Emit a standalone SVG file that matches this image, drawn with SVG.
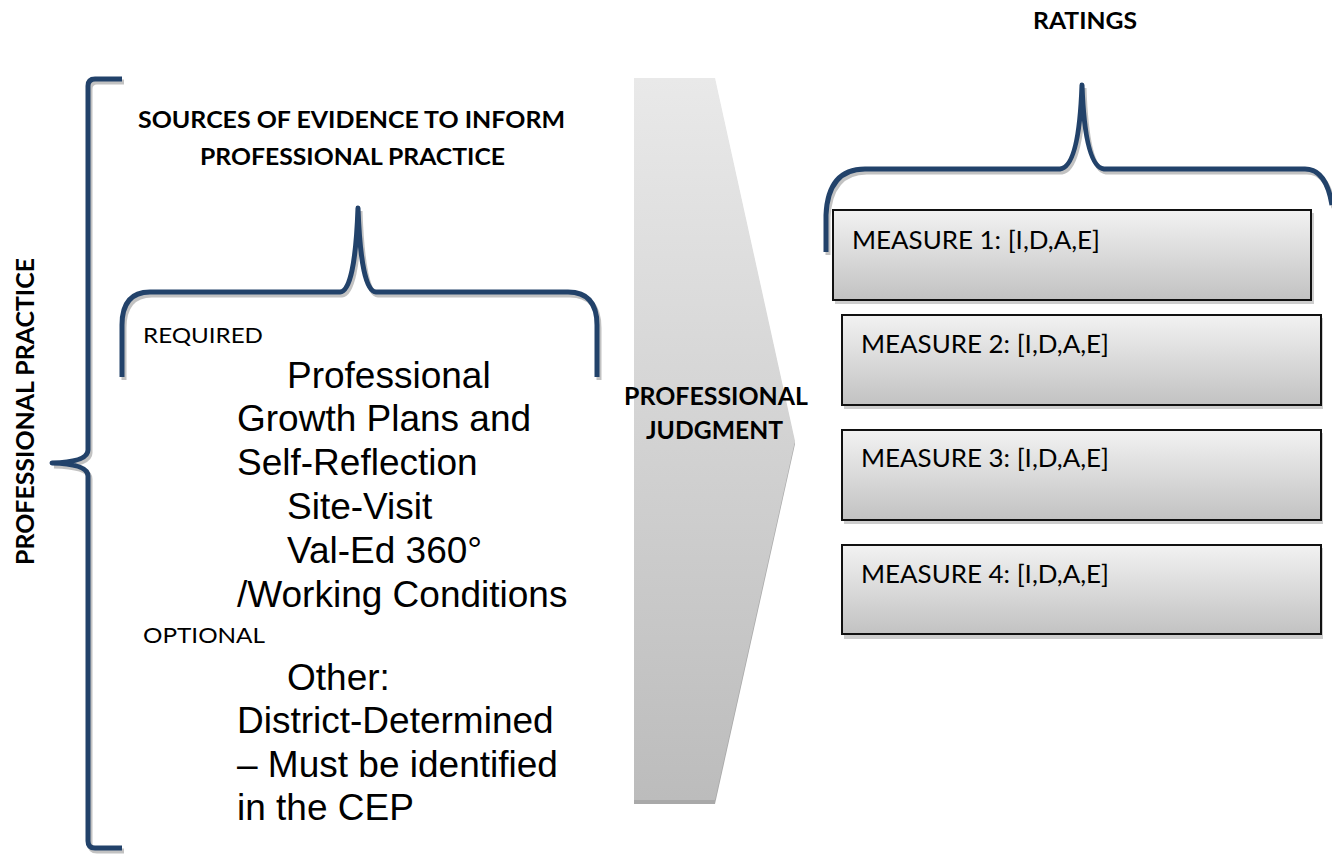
<svg xmlns="http://www.w3.org/2000/svg" width="1332" height="855" viewBox="0 0 1332 855">
<defs>
<linearGradient id="boxGrad" x1="0" y1="0" x2="0" y2="1">
<stop offset="0" stop-color="#f2f2f2"/>
<stop offset="1" stop-color="#c2c2c2"/>
</linearGradient>
<linearGradient id="chevGrad" x1="0" y1="0" x2="0" y2="1">
<stop offset="0" stop-color="#e9e9e9"/>
<stop offset="1" stop-color="#bcbcbc"/>
</linearGradient>
</defs>
<style>
.br{fill:none;stroke:#22426a;stroke-width:5;stroke-linecap:butt;stroke-linejoin:round}
.brs{fill:none;stroke:#9a9a9a;stroke-width:5;opacity:0.6}
.bold{font-family:Lato,"Open Sans",sans-serif;font-weight:bold;fill:#000}
.reg{font-family:Lato,"Open Sans",sans-serif;fill:#000}
.big{font-family:"Liberation Sans",Arial,sans-serif;font-size:37px;fill:#000}
.box{fill:url(#boxGrad);stroke:#111;stroke-width:2}
.shadow{fill:#b8b8b8;opacity:0.7}
</style>

<g id="ratings-title">
<text class="bold" x="1033" y="29" font-size="23" textLength="104" lengthAdjust="spacingAndGlyphs">RATINGS</text>
</g>

<g id="professional-practice-label">
<text class="bold" transform="translate(34,565) rotate(-90)" font-size="24" textLength="307" lengthAdjust="spacingAndGlyphs">PROFESSIONAL PRACTICE</text>
</g>

<g id="sources-title">
<text class="bold" x="138" y="128" font-size="23" textLength="427" lengthAdjust="spacingAndGlyphs">SOURCES OF EVIDENCE TO INFORM</text>
<text class="bold" x="200" y="165" font-size="23" textLength="305" lengthAdjust="spacingAndGlyphs">PROFESSIONAL PRACTICE</text>
</g>

<g id="brackets">
<g id="left-bracket">
<path class="brs" transform="translate(2,3)" d="M122,79 H95 Q88,79 88,86 V450 Q88,462 52,463 Q88,464 88,476 V841 Q88,848 95,848 H122"/>
<path class="br" d="M122,79 H95 Q88,79 88,86 V450 Q88,462 52,463 Q88,464 88,476 V841 Q88,848 95,848 H122"/>
</g>
<g id="sources-bracket">
<path class="brs" transform="translate(2,3)" d="M122,377 V325 Q122,292 150,292 H340 Q355,291 358,208 Q361,291 376,292 H568 Q597,292 597,325 V377"/>
<path class="br" d="M122,377 V325 Q122,292 150,292 H340 Q355,291 358,208 Q361,291 376,292 H568 Q597,292 597,325 V377"/>
</g>
<g id="ratings-bracket">
<path class="brs" transform="translate(2,3)" d="M826,252 V215 Q828,169 865,169 H1060 Q1079,167 1082,85 Q1085,167 1104,169 H1305 Q1326,169 1332,205"/>
<path class="br" d="M826,252 V215 Q828,169 865,169 H1060 Q1079,167 1082,85 Q1085,167 1104,169 H1305 Q1326,169 1332,205"/>
</g>
</g>

<g id="sources-list">
<text class="reg" x="143" y="343" font-size="22" textLength="120" lengthAdjust="spacingAndGlyphs">REQUIRED</text>
<text class="big" x="287" y="388">Professional</text>
<text class="big" x="237" y="431">Growth Plans and</text>
<text class="big" x="237" y="475">Self-Reflection</text>
<text class="big" x="287" y="519">Site-Visit</text>
<text class="big" x="287" y="563">Val-Ed 360°</text>
<text class="big" x="237" y="607">/Working Conditions</text>
<text class="reg" x="143" y="643" font-size="22" textLength="122" lengthAdjust="spacingAndGlyphs">OPTIONAL</text>
<text class="big" x="287" y="690">Other:</text>
<text class="big" x="237" y="733">District-Determined</text>
<text class="big" x="237" y="777">– Must be identified</text>
<text class="big" x="237" y="820">in the CEP</text>
</g>

<g id="professional-judgment">
<polygon points="634,81 715,81 795,444 715,804 634,804" fill="#a9a9a9"/>
<polygon points="634,78 715,78 795,441 715,800 634,800" fill="url(#chevGrad)"/>
<text class="bold" x="624" y="405" font-size="25" textLength="184" lengthAdjust="spacingAndGlyphs">PROFESSIONAL</text>
<text class="bold" x="646" y="439" font-size="25" textLength="137" lengthAdjust="spacingAndGlyphs">JUDGMENT</text>
</g>

<g id="measure-1">
<rect class="shadow" x="835" y="213" width="479" height="91"/>
<rect class="box" x="833" y="210" width="478" height="90"/>
<text class="reg" x="852" y="249" font-size="25" textLength="248" lengthAdjust="spacingAndGlyphs">MEASURE 1: [I,D,A,E]</text>
</g>
<g id="measure-2">
<rect class="shadow" x="844" y="318" width="479" height="91"/>
<rect class="box" x="842" y="315" width="479" height="90"/>
<text class="reg" x="861" y="353" font-size="25" textLength="248" lengthAdjust="spacingAndGlyphs">MEASURE 2: [I,D,A,E]</text>
</g>
<g id="measure-3">
<rect class="shadow" x="844" y="433" width="479" height="91"/>
<rect class="box" x="842" y="430" width="479" height="90"/>
<text class="reg" x="861" y="467" font-size="25" textLength="248" lengthAdjust="spacingAndGlyphs">MEASURE 3: [I,D,A,E]</text>
</g>
<g id="measure-4">
<rect class="shadow" x="844" y="548" width="479" height="91"/>
<rect class="box" x="842" y="545" width="479" height="89"/>
<text class="reg" x="861" y="583" font-size="25" textLength="248" lengthAdjust="spacingAndGlyphs">MEASURE 4: [I,D,A,E]</text>
</g>
</svg>
